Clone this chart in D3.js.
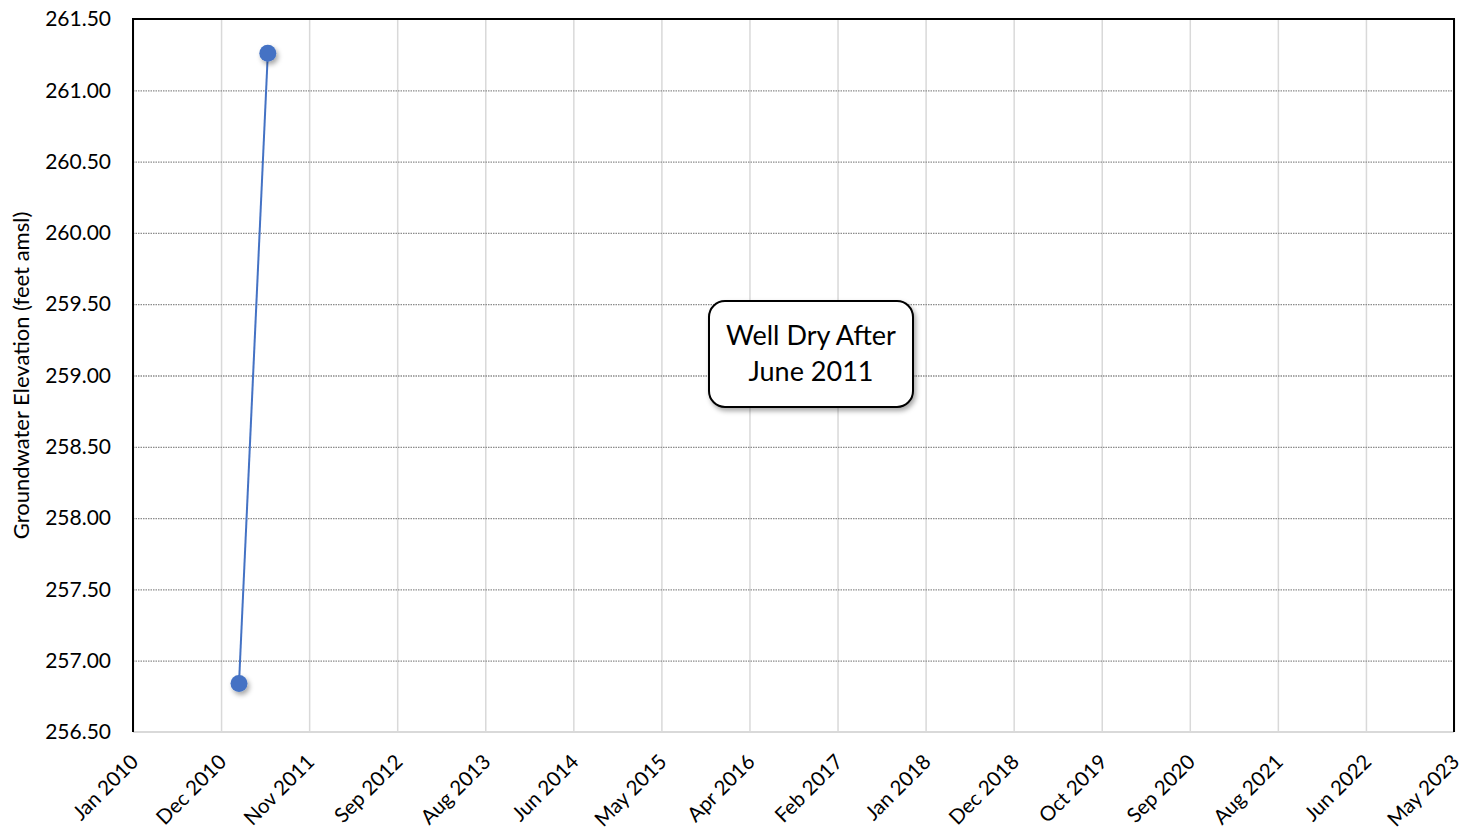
<!DOCTYPE html>
<html>
<head>
<meta charset="utf-8">
<script src="https://cdn.jsdelivr.net/npm/d3@7"></script>
<style>
  body { margin: 0; background: #fff; }
  svg text { font-family: Lato, "Open Sans", sans-serif; fill: #000; }
</style>
</head>
<body>
<div id="app"></div>
<script>
// sample dates and groundwater elevations (feet amsl)
const sampleDates = ["2011-02-16", "2011-06-02"];
const elevations = [256.84, 261.26];

// axis settings
const yTicks = [256.5, 257, 257.5, 258, 258.5, 259, 259.5, 260, 260.5, 261, 261.5];
const xTickLabels = ["Jan 2010", "Dec 2010", "Nov 2011", "Sep 2012", "Aug 2013", "Jun 2014",
  "May 2015", "Apr 2016", "Feb 2017", "Jan 2018", "Dec 2018", "Oct 2019", "Sep 2020",
  "Aug 2021", "Jun 2022", "May 2023"];
const xStart = "2010-01-22";
const xStepDays = 324;
const noteLines = ["Well Dry After", "June 2011"];

const settings = {
  width: 1465,
  height: 834,
  left: 133,
  top: 19,
  right: 1454,
  bottom: 732,
};

const parse = d3.utcParse("%Y-%m-%d");
const startDate = parse(xStart);
const xTickDates = xTickLabels.map((d, i) => d3.utcDay.offset(startDate, i * xStepDays));

const svg = d3.select("#app").append("svg")
  .attr("width", settings.width)
  .attr("height", settings.height);

const defs = svg.append("defs");
const shadow = defs.append("filter").attr("id", "shadow")
  .attr("x", "-50%").attr("y", "-50%").attr("width", "200%").attr("height", "200%");
shadow.append("feDropShadow")
  .attr("dx", 2).attr("dy", 3).attr("stdDeviation", 2.5)
  .attr("flood-color", "#000").attr("flood-opacity", 0.35);

const x = d3.scaleUtc()
  .domain([xTickDates[0], xTickDates[xTickDates.length - 1]])
  .range([settings.left, settings.right]);
const y = d3.scaleLinear()
  .domain([yTicks[0], yTicks[yTicks.length - 1]])
  .range([settings.bottom, settings.top]);

//vertical gridlines
svg.append("g")
  .attr("transform", `translate(0,${settings.bottom})`)
  .call(d3.axisBottom(x).tickValues(xTickDates).tickFormat("")
    .tickSize(-(settings.bottom - settings.top)))
  .call(g => g.select(".domain").remove())
  .call(g => g.selectAll("line").attr("stroke", "#d9d9d9").attr("stroke-width", 1.5));

//horizontal dotted gridlines
svg.append("g")
  .attr("transform", `translate(${settings.left},0)`)
  .call(d3.axisLeft(y).tickValues(yTicks.slice(1, -1)).tickFormat("")
    .tickSize(-(settings.right - settings.left)))
  .call(g => g.select(".domain").remove())
  .call(g => g.selectAll("line").attr("stroke", "#8c8c8c")
    .attr("stroke-width", 1.3).attr("stroke-dasharray", "1.5,1"));

//y labels
svg.append("g")
  .attr("transform", `translate(${settings.left},0)`)
  .call(d3.axisLeft(y).tickValues(yTicks).tickFormat(d3.format(".2f")).tickSize(0).tickPadding(22))
  .call(g => g.select(".domain").remove())
  .call(g => g.selectAll("text").style("font-size", "21px")
    .style("font-family", "Lato, 'Open Sans', sans-serif").attr("fill", "#000"));

//x labels, rotated
svg.append("g")
  .attr("transform", `translate(0,${settings.bottom})`)
  .call(d3.axisBottom(x).tickValues(xTickDates).tickFormat((d, i) => xTickLabels[i]).tickSize(0))
  .call(g => g.select(".domain").remove())
  .call(g => g.selectAll("text")
    .style("font-size", "20.5px")
    .style("font-family", "Lato, 'Open Sans', sans-serif")
    .attr("fill", "#000")
    .attr("text-anchor", "end")
    .attr("dy", 0)
    .attr("transform", "translate(4,29) rotate(-45)"));

//frame
svg.append("line")
  .attr("x1", settings.left).attr("x2", settings.right)
  .attr("y1", settings.bottom).attr("y2", settings.bottom)
  .attr("stroke", "#d9d9d9").attr("stroke-width", 2);
svg.append("path")
  .attr("d", `M${settings.left},${settings.bottom}V${settings.top}H${settings.right}V${settings.bottom}`)
  .attr("fill", "none").attr("stroke", "#000").attr("stroke-width", 2);

//y axis title
svg.append("text")
  .attr("transform", `translate(29,${(settings.top + settings.bottom) / 2}) rotate(-90)`)
  .attr("text-anchor", "middle")
  .style("font-size", "22px")
  .text("Groundwater Elevation (feet amsl)");

//series
const points = sampleDates.map((d, i) => ({ date: parse(d), value: elevations[i] }));
svg.append("path")
  .datum(points)
  .attr("fill", "none")
  .attr("stroke", "#4472c4")
  .attr("stroke-width", 2)
  .attr("d", d3.line().x(d => x(d.date)).y(d => y(d.value)));
svg.append("g").selectAll("circle")
  .data(points)
  .join("circle")
  .attr("cx", d => x(d.date))
  .attr("cy", d => y(d.value))
  .attr("r", 8.5)
  .attr("fill", "#4472c4")
  .attr("filter", "url(#shadow)");

//annotation box
const note = svg.append("g").attr("transform", "translate(709,301)");
note.append("rect")
  .attr("width", 204).attr("height", 106)
  .attr("rx", 16).attr("ry", 16)
  .attr("fill", "#fff").attr("stroke", "#000").attr("stroke-width", 2)
  .attr("filter", "url(#shadow)");
note.selectAll("text.note")
  .data(noteLines)
  .join("text")
  .attr("class", "note")
  .attr("x", 102)
  .attr("y", (d, i) => 44 + i * 36)
  .attr("text-anchor", "middle")
  .style("font-size", "27px")
  .text(d => d);
</script>
</body>
</html>
